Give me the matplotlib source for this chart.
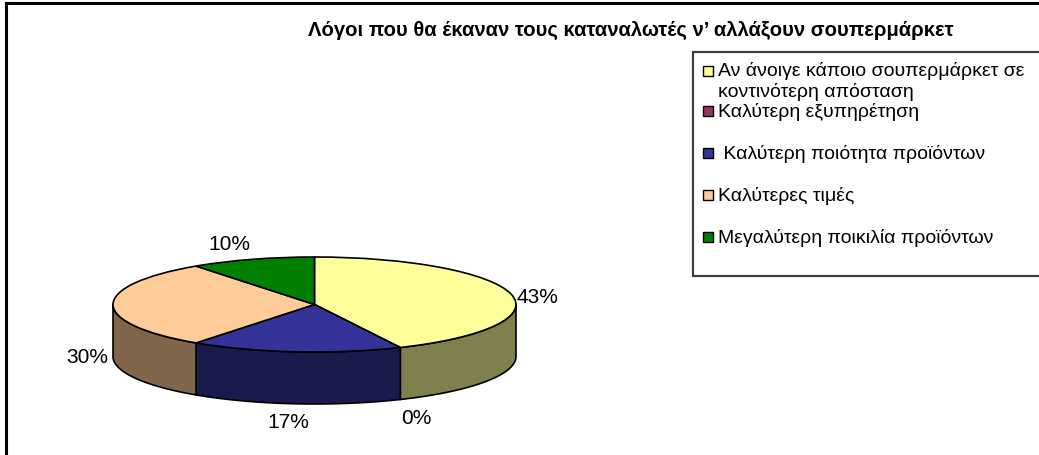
import numpy as np
import matplotlib
matplotlib.use("Agg")
import matplotlib.pyplot as plt
from matplotlib.patches import Wedge, Polygon, Rectangle
from matplotlib.transforms import Affine2D
from matplotlib.lines import Line2D

# ---- data ----
title = "Λόγοι που θα έκαναν τους καταναλωτές ν’ αλλάξουν σουπερμάρκετ"
categories = [
    "Αν άνοιγε κάποιο σουπερμάρκετ σε\nκοντινότερη απόσταση",
    "Καλύτερη εξυπηρέτηση",
    " Καλύτερη ποιότητα προϊόντων",
    "Καλύτερες τιμές",
    "Μεγαλύτερη ποικιλία προϊόντων",
]
values = [43, 0, 17, 30, 10]
colors = ["#FFFF99", "#993366", "#333399", "#FFCC99", "#008000"]

# label nudges in pixels (style only)
label_nudge = [(1, 7), (5, -2), (-5, -4), (0, 0), (-15, 5)]

plt.rcParams['font.family'] = ['Liberation Sans', 'DejaVu Sans']

W, H = 1039, 456
fig = plt.figure(figsize=(W / 100, H / 100), dpi=100)
ax = fig.add_axes([0, 0, 1, 1])
ax.set_xlim(0, W)
ax.set_ylim(H, 0)
ax.axis('off')

# outer frame (partially cropped)
ax.add_line(Line2D([6, 6], [4, H + 5], color='black', lw=2.2))
ax.add_line(Line2D([6, W + 5], [4, 4], color='black', lw=2.2))

# title
ax.text(631, 30, title, ha='center', va='center', fontsize=14.6, fontweight='bold')

# ---- 3D pie ----
cx, cy, rx, ry, depth = 314.5, 305.5, 201.5, 47.5, 52
tr = Affine2D().scale(rx, -ry).translate(cx, cy) + ax.transData
d = depth / ry

total = float(sum(values))
start = 90.0
angles = []
for v in values:
    span = 360.0 * v / total
    angles.append((start - span, start))
    start -= span

def shade(c):
    r, g, b = matplotlib.colors.to_rgb(c)
    return (r * 0.5, g * 0.5, b * 0.5)

# sides (front half only: angles between -180 and 0)
for (a1, a2), col in zip(angles, colors):
    lo = max(a1, -180.0)
    hi = min(a2, 0.0)
    if hi - lo <= 0:
        continue
    t = np.radians(np.linspace(lo, hi, 80))
    top = np.column_stack([np.cos(t), np.sin(t)])
    bot = np.column_stack([np.cos(t), np.sin(t) - d])[::-1]
    poly = Polygon(np.vstack([top, bot]), closed=True, facecolor=shade(col),
                   edgecolor='black', lw=1.2, transform=tr, joinstyle='round')
    ax.add_patch(poly)

# top faces
for (a1, a2), col in zip(angles, colors):
    if a2 - a1 <= 0:
        continue
    w = Wedge((0, 0), 1, a1, a2, facecolor=col, edgecolor='black', lw=1.2,
              transform=tr)
    ax.add_patch(w)

# labels
for (a1, a2), v, (nx, ny) in zip(angles, values, label_nudge):
    m = np.radians((a1 + a2) / 2)
    c, s = np.cos(m), np.sin(m)
    px = cx + rx * c
    py = cy - ry * s + (depth if s < 0 else 0)
    lx = px + 26 * c + nx
    ly = py - 22 * s + ny
    ax.text(lx, ly, f"{v}%", ha='center', va='center', fontsize=15)

# ---- legend ----
lx0, ly0, lx1, ly1 = 693, 53, W + 5, 277
ax.add_patch(Rectangle((lx0, ly0), lx1 - lx0, ly1 - ly0, facecolor='white',
                       edgecolor='#404040', lw=1.6))
entry_y = [71.5, 112, 154, 196, 238]
for yy, lab, col in zip(entry_y, categories, colors):
    ax.add_patch(Rectangle((702.5, yy - 5), 10.5, 10, facecolor=col,
                           edgecolor='black', lw=1.0))
    for i, line in enumerate(lab.split('\n')):
        ax.text(718.5, yy + i * 20.5, line, ha='left', va='center', fontsize=14)

fig.savefig("out.png", dpi=100)
